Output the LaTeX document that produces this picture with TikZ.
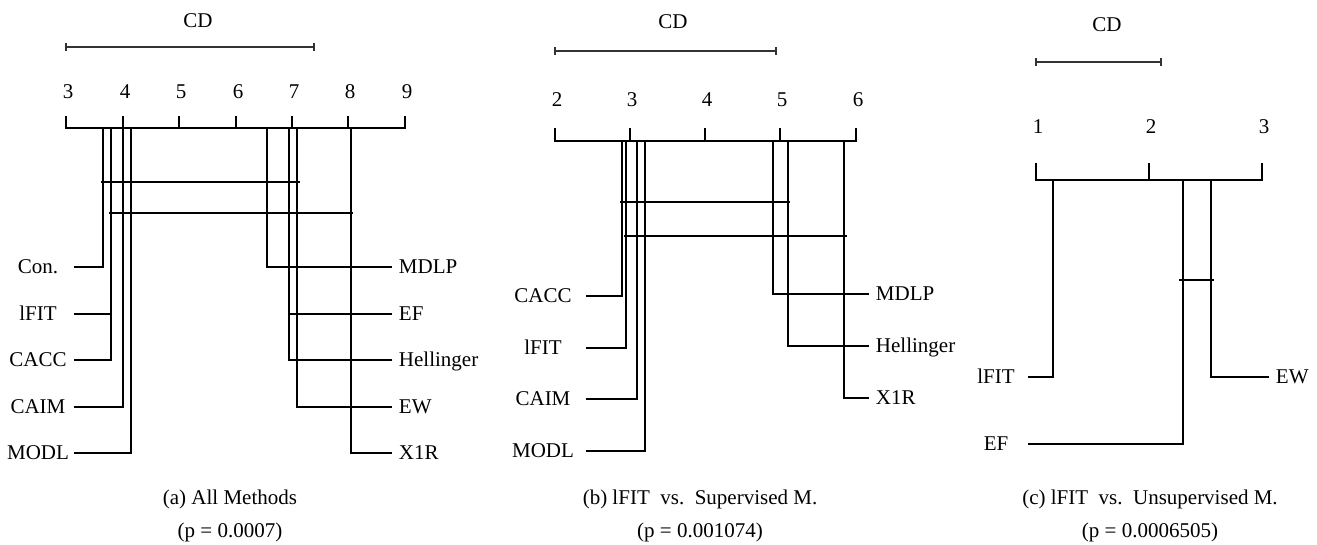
\documentclass[tikz,border=0pt]{standalone}
\usepackage{fontspec}
\setmainfont{Liberation Serif}
\usepackage{tikz}
\usetikzlibrary{positioning}

\begin{document}
\begin{tikzpicture}[x=0.75pt, y=-0.75pt, font=\fontsize{15.75}{18}\selectfont]
\tikzstyle{rule} = [line width=0.9pt]
\tikzstyle{cdbar} = [line width=1.3pt, black!80]
\tikzstyle{lname} = [inner sep=0pt, text height=10.4pt, text depth=0pt, text centered]
\tikzstyle{rname} = [inner ysep=0pt, inner xsep=5pt, text height=10.4pt, text depth=0pt, anchor=west]
\tikzstyle{caption} = [align=center, inner sep=0pt, font=\fontsize{15.75}{24.75}\selectfont]

\useasboundingbox (0,0) rectangle (1317,544);

% (a) all methods
\node (cdA) at (198,21) {CD};
\draw [cdbar] (66,43) -- (66,51) (66,47) -- (314,47) (314,43) -- (314,51);
\draw [rule] (66,116) |- (405,128) -- (405,116);
\foreach \x/\r in {66/3,123/4,179/5,236/6,292/7,348/8,405/9} {
  \draw [rule] (\x,116) -- (\x,128);
  \node (tA\r) at (\x+2,92) {\r};
}
\coordinate (aCon) at (103,128);
\coordinate (aFIT) at (111,128);
\coordinate (aCAIM) at (123,128);
\coordinate (aMODL) at (131,128);
\coordinate (aMDLP) at (267,128);
\coordinate (aEF) at (289,128);
\coordinate (aEW) at (297,128);
\coordinate (aX1R) at (351,128);

\draw [rule] (101,182) -- (300,182);
\draw [rule] (109,213) -- (353,213);

\node (lCon) [lname, minimum width=54pt] at (38,267) {Con.};
\node (lFITa) [lname, minimum width=54pt] at (38,314) {lFIT};
\node (lCACC) [lname, minimum width=54pt] at (38,360) {CACC};
\node (lCAIM) [lname, minimum width=54pt] at (38,407) {CAIM};
\node (lMODL) [lname, minimum width=54pt] at (38,453) {MODL};
\node (rMDLP) [rname] at (392,267) {MDLP};
\node (rEF) [rname] at (392,314) {EF};
\node (rHell) [rname] at (392,360) {Hellinger};
\node (rEW) [rname] at (392,407) {EW};
\node (rX1R) [rname] at (392,453) {X1R};

\draw [rule] (lCon.east) -| (aCon);
\draw [rule] (lFITa.east) -| (aFIT);
\draw [rule] (lCACC.east) -| (aFIT);
\draw [rule] (lCAIM.east) -| (aCAIM);
\draw [rule] (lMODL.east) -| (aMODL);
\draw [rule] (rMDLP.west) -| (aMDLP);
\draw [rule] (rEF.west) -| (aEF);
\draw [rule] (rHell.west) -| (aEF);
\draw [rule] (rEW.west) -| (aEW);
\draw [rule] (rX1R.west) -| (aX1R);

\node (capA) [caption] at (230,516) {(a) All Methods\\(p = 0.0007)};

% (b) lFIT vs. supervised
\node (cdB) at (673,22) {CD};
\draw [cdbar] (555,47) -- (555,55) (555,51) -- (776,51) (776,47) -- (776,55);
\draw [rule] (555,128) |- (856,141) -- (856,128);
\foreach \x/\r in {555/2,630/3,705/4,780/5,856/6} {
  \draw [rule] (\x,128) -- (\x,141);
  \node (tB\r) at (\x+2,100) {\r};
}
\coordinate (bCACC) at (622,141);
\coordinate (bFIT) at (626,141);
\coordinate (bCAIM) at (637,141);
\coordinate (bMODL) at (645,141);
\coordinate (bMDLP) at (773,141);
\coordinate (bHell) at (788,141);
\coordinate (bX1R) at (844,141);

\draw [rule] (620,202) -- (790,202);
\draw [rule] (624,236) -- (847,236);

\node (mCACC) [lname, minimum width=64.5pt] at (543,296) {CACC};
\node (mFIT) [lname, minimum width=64.5pt] at (543,348) {lFIT};
\node (mCAIM) [lname, minimum width=64.5pt] at (543,399) {CAIM};
\node (mMODL) [lname, minimum width=64.5pt] at (543,451) {MODL};
\node (sMDLP) [rname] at (869,294) {MDLP};
\node (sHell) [rname] at (869,346) {Hellinger};
\node (sX1R) [rname] at (869,398) {X1R};

\draw [rule] (mCACC.east) -| (bCACC);
\draw [rule] (mFIT.east) -| (bFIT);
\draw [rule] (mCAIM.east) -| (bCAIM);
\draw [rule] (mMODL.east) -| (bMODL);
\draw [rule] (sMDLP.west) -| (bMDLP);
\draw [rule] (sHell.west) -| (bHell);
\draw [rule] (sX1R.west) -| (bX1R);

\node (capB) [caption] at (700,516) {(b) lFIT\enspace vs.\enspace Supervised M.\\(p = 0.001074)};

% (c) lFIT vs. unsupervised
\node (cdC) at (1107,25) {CD};
\draw [cdbar] (1036,58) -- (1036,66) (1036,62) -- (1161,62) (1161,58) -- (1161,66);
\draw [rule] (1036,163) |- (1262,180) -- (1262,163);
\foreach \x/\r in {1036/1,1149/2,1262/3} {
  \draw [rule] (\x,163) -- (\x,180);
  \node (tC\r) at (\x+2,127) {\r};
}
\coordinate (cFIT) at (1053,180);
\coordinate (cEF) at (1183,180);
\coordinate (cEW) at (1211,180);

\draw [rule] (1179,280) -- (1214,280);

\node (uFIT) [lname, minimum width=48pt] at (996,377) {lFIT};
\node (uEF) [lname, minimum width=48pt] at (996,444) {EF};
\node (uEW) [rname] at (1269,377) {EW};

\draw [rule] (uFIT.east) -| (cFIT);
\draw [rule] (uEF.east) -| (cEF);
\draw [rule] (uEW.west) -| (cEW);

\node (capC) [caption] at (1150,516) {(c) lFIT\enspace vs.\enspace Unsupervised M.\\(p = 0.0006505)};
\end{tikzpicture}
\end{document}
